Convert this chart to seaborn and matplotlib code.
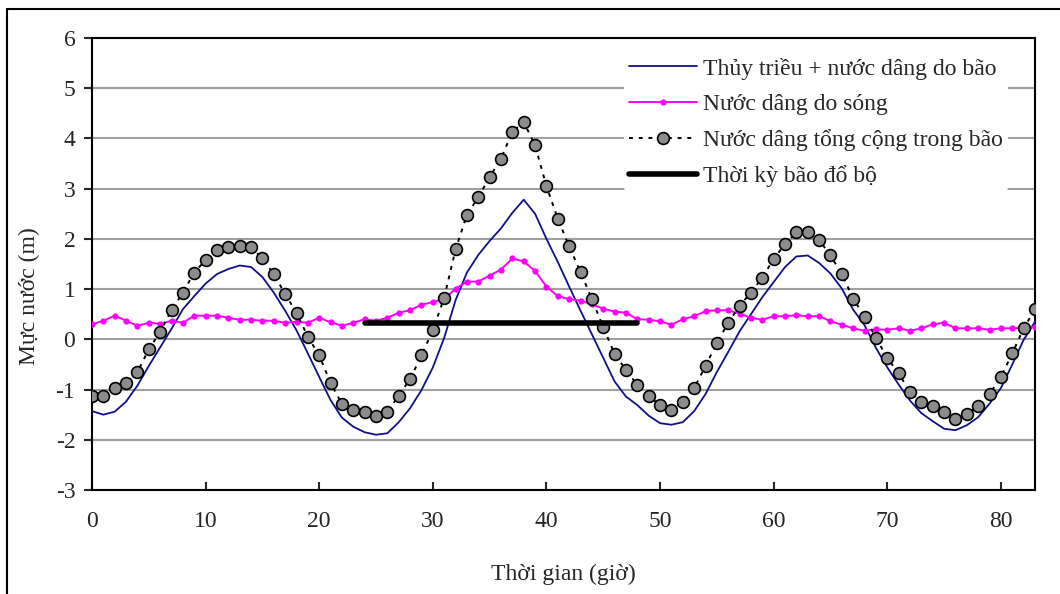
import numpy as np
import pandas as pd
import matplotlib
matplotlib.use("Agg")
import matplotlib.pyplot as plt
import seaborn as sns
from matplotlib.lines import Line2D

# -----------------------------
# Data (hourly)
# -----------------------------
hours = list(range(84))

tide_surge = [
    -1.43, -1.50, -1.44, -1.24, -0.92, -0.53, -0.16, 0.21, 0.60, 0.86,
    1.11, 1.30, 1.40, 1.47, 1.44, 1.24, 0.93, 0.57, 0.18, -0.28,
    -0.75, -1.21, -1.56, -1.74, -1.85, -1.90, -1.87, -1.65, -1.37, -1.01,
    -0.56, 0.03, 0.78, 1.33, 1.68, 1.96, 2.21, 2.52, 2.78, 2.50,
    2.00, 1.54, 1.05, 0.57, 0.10, -0.37, -0.84, -1.14, -1.31, -1.52,
    -1.67, -1.70, -1.65, -1.43, -1.09, -0.65, -0.25, 0.16, 0.50, 0.84,
    1.14, 1.44, 1.65, 1.67, 1.52, 1.31, 1.01, 0.59, 0.28, -0.17,
    -0.56, -0.90, -1.22, -1.47, -1.63, -1.78, -1.81, -1.71, -1.55, -1.28,
    -0.97, -0.50, -0.01, 0.35,
]

wave_setup = [
    0.30, 0.37, 0.47, 0.37, 0.27, 0.33, 0.31, 0.37, 0.33, 0.47,
    0.47, 0.47, 0.43, 0.39, 0.39, 0.37, 0.37, 0.33, 0.35, 0.33,
    0.43, 0.34, 0.27, 0.33, 0.40, 0.37, 0.43, 0.53, 0.58, 0.69,
    0.74, 0.80, 1.01, 1.15, 1.15, 1.27, 1.39, 1.61, 1.55, 1.36,
    1.05, 0.86, 0.80, 0.77, 0.70, 0.61, 0.55, 0.53, 0.40, 0.39,
    0.36, 0.29, 0.40, 0.46, 0.56, 0.58, 0.58, 0.51, 0.43, 0.39,
    0.46, 0.46, 0.48, 0.46, 0.46, 0.36, 0.29, 0.22, 0.17, 0.20,
    0.19, 0.22, 0.17, 0.22, 0.30, 0.33, 0.22, 0.22, 0.22, 0.19,
    0.22, 0.22, 0.23, 0.25,
]

total_surge = [
    -1.13, -1.13, -0.97, -0.87, -0.65, -0.20, 0.15, 0.58, 0.93, 1.33,
    1.58, 1.77, 1.83, 1.86, 1.83, 1.61, 1.30, 0.90, 0.53, 0.05,
    -0.32, -0.87, -1.29, -1.41, -1.45, -1.53, -1.44, -1.12, -0.79, -0.32,
    0.18, 0.83, 1.79, 2.48, 2.83, 3.23, 3.60, 4.13, 4.33, 3.86,
    3.05, 2.40, 1.85, 1.34, 0.80, 0.24, -0.29, -0.61, -0.91, -1.13,
    -1.31, -1.41, -1.25, -0.97, -0.53, -0.07, 0.33, 0.67, 0.93, 1.23,
    1.60, 1.90, 2.13, 2.13, 1.98, 1.67, 1.30, 0.81, 0.45, 0.03,
    -0.37, -0.68, -1.05, -1.25, -1.33, -1.45, -1.59, -1.49, -1.33, -1.09,
    -0.75, -0.28, 0.22, 0.60,
]

landfall_hours = [24, 48]
landfall_level = [0.32, 0.32]

labels = [
    "Thủy triều + nước dâng do bão",
    "Nước dâng do sóng",
    "Nước dâng tổng cộng trong bão",
    "Thời kỳ bão đổ bộ",
]

# -----------------------------
# Style
# -----------------------------
sns.set_style("ticks")
plt.rcParams["font.family"] = ["Liberation Serif", "DejaVu Serif"]
plt.rcParams["font.size"] = 17
plt.rcParams["axes.unicode_minus"] = False

df = pd.DataFrame({
    "hour": hours,
    "tide_surge": tide_surge,
    "wave_setup": wave_setup,
    "total_surge": total_surge,
})
land = pd.DataFrame({"hour": landfall_hours, "level": landfall_level})

fig = plt.figure(figsize=(10.6, 5.94), dpi=100)
ax = fig.add_axes([92 / 1060, 1 - 490 / 594, 943 / 1060, 452 / 594])

c_blue = "#10108a"
c_mag = "#ff00ff"
c_grey = "#8c8c8c"

dot_style = dict(color="black", linewidth=1.4, linestyle=(0, (2, 3)), marker="o",
                 markersize=8.5, markerfacecolor=c_grey, markeredgecolor="black",
                 markeredgewidth=1.2)

sns.lineplot(data=df, x="hour", y="tide_surge", color=c_blue, linewidth=1.3, ax=ax, zorder=3)
sns.lineplot(data=df, x="hour", y="wave_setup", color=c_mag, linewidth=1.4,
             marker="o", markersize=4.5, markeredgewidth=0, ax=ax, zorder=4)
sns.lineplot(data=df, x="hour", y="total_surge", ax=ax, zorder=5, **dot_style)
sns.lineplot(data=land, x="hour", y="level", color="black", linewidth=4, ax=ax, zorder=6)

ax.set_xlim(0, 83)
ax.set_ylim(-3, 6)
ax.set_xticks(np.arange(0, 81, 10))
ax.set_yticks(np.arange(-3, 7, 1))
ax.yaxis.grid(True, color="#a0a0a0", linewidth=1.5)
ax.set_axisbelow(True)
for s in ax.spines.values():
    s.set_visible(True)
    s.set_color("black")
    s.set_linewidth(1.5)
ax.tick_params(axis="y", direction="out", length=6, width=1.5, labelsize=17, pad=6)
ax.tick_params(axis="x", direction="in", length=6, width=1.5, labelsize=17, pad=15)

ax.set_xlabel("Thời gian (giờ)", fontsize=17)
ax.set_ylabel("Mực nước (m)", fontsize=17)
ax.xaxis.set_label_coords(0.5, -0.163)
ax.yaxis.set_label_coords(-0.055, 0.43)

handles = [
    Line2D([], [], color=c_blue, linewidth=1.3),
    Line2D([], [], color=c_mag, linewidth=1.4, marker="o", markersize=4.5, markeredgewidth=0),
    Line2D([], [], **dot_style),
    Line2D([], [], color="black", linewidth=4),
]
leg = ax.legend(handles, labels, loc="upper left", bbox_to_anchor=(0.564, 0.967),
                frameon=True, facecolor="white", edgecolor="none", framealpha=1,
                fontsize=17, handlelength=2.9, handletextpad=0.25, labelspacing=0.59,
                borderaxespad=0, borderpad=0.2)
leg.set_zorder(10)

# outer chart border (top and left edges)
fig.add_artist(Line2D([7 / 1060, 7 / 1060], [0, 1 - 9 / 594], color="black", linewidth=1.5,
                      transform=fig.transFigure))
fig.add_artist(Line2D([7 / 1060, 1], [1 - 9 / 594, 1 - 9 / 594], color="black", linewidth=1.5,
                      transform=fig.transFigure))

fig.savefig("out.png", dpi=100)
